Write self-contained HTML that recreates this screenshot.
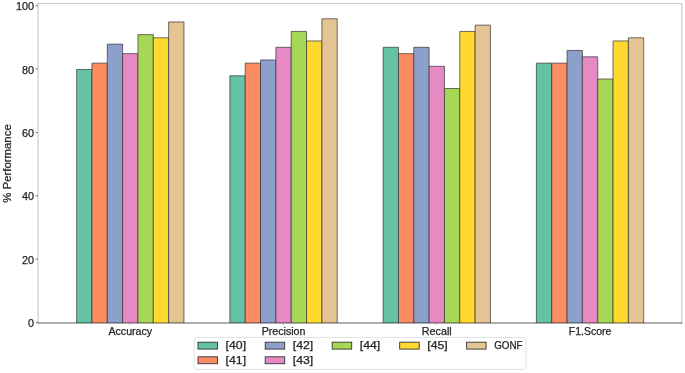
<!DOCTYPE html><html><head><meta charset="utf-8"><style>html,body{margin:0;padding:0;background:#fff;overflow:hidden;}svg{display:block;}text{font-family:"Liberation Sans",sans-serif;stroke:#262626;stroke-width:0.25px;}</style></head><body>
<svg width="685" height="373" viewBox="0 0 685 373">
<defs><filter id="b" x="0" y="0" width="100%" height="100%"><feGaussianBlur stdDeviation="0.35"/></filter></defs>
<rect x="0" y="0" width="685" height="373" fill="#fff"/>
<g filter="url(#b)">
<rect x="0" y="0" width="685" height="373" fill="#fff"/>
<path d="M38.0,323.0 V3.43 H681.8 V323.0" fill="none" stroke="#c8c8c8" stroke-width="1.1"/>
<rect x="76.65" y="69.48" width="15.33" height="253.52" fill="#66c2a5"/>
<path d="M76.65,323.00 V69.48 H91.98 V323.00" fill="none" stroke="#333" stroke-width="0.7"/>
<rect x="91.98" y="63.14" width="15.33" height="259.86" fill="#fc8d62"/>
<path d="M91.98,323.00 V63.14 H107.31 V323.00" fill="none" stroke="#333" stroke-width="0.7"/>
<rect x="107.31" y="44.13" width="15.33" height="278.87" fill="#8da0cb"/>
<path d="M107.31,323.00 V44.13 H122.64 V323.00" fill="none" stroke="#333" stroke-width="0.7"/>
<rect x="122.64" y="53.63" width="15.33" height="269.37" fill="#e78ac3"/>
<path d="M122.64,323.00 V53.63 H137.97 V323.00" fill="none" stroke="#333" stroke-width="0.7"/>
<rect x="137.97" y="34.62" width="15.33" height="288.38" fill="#a6d854"/>
<path d="M137.97,323.00 V34.62 H153.30 V323.00" fill="none" stroke="#333" stroke-width="0.7"/>
<rect x="153.30" y="37.79" width="15.33" height="285.21" fill="#ffd92f"/>
<path d="M153.30,323.00 V37.79 H168.63 V323.00" fill="none" stroke="#333" stroke-width="0.7"/>
<rect x="168.62" y="21.94" width="15.33" height="301.06" fill="#e5c494"/>
<path d="M168.62,323.00 V21.94 H183.96 V323.00" fill="none" stroke="#333" stroke-width="0.7"/>
<rect x="229.90" y="75.82" width="15.33" height="247.18" fill="#66c2a5"/>
<path d="M229.90,323.00 V75.82 H245.23 V323.00" fill="none" stroke="#333" stroke-width="0.7"/>
<rect x="245.23" y="63.14" width="15.33" height="259.86" fill="#fc8d62"/>
<path d="M245.23,323.00 V63.14 H260.56 V323.00" fill="none" stroke="#333" stroke-width="0.7"/>
<rect x="260.56" y="59.97" width="15.33" height="263.03" fill="#8da0cb"/>
<path d="M260.56,323.00 V59.97 H275.88 V323.00" fill="none" stroke="#333" stroke-width="0.7"/>
<rect x="275.88" y="47.30" width="15.33" height="275.70" fill="#e78ac3"/>
<path d="M275.88,323.00 V47.30 H291.21 V323.00" fill="none" stroke="#333" stroke-width="0.7"/>
<rect x="291.22" y="31.45" width="15.33" height="291.55" fill="#a6d854"/>
<path d="M291.22,323.00 V31.45 H306.55 V323.00" fill="none" stroke="#333" stroke-width="0.7"/>
<rect x="306.55" y="40.96" width="15.33" height="282.04" fill="#ffd92f"/>
<path d="M306.55,323.00 V40.96 H321.88 V323.00" fill="none" stroke="#333" stroke-width="0.7"/>
<rect x="321.88" y="18.78" width="15.33" height="304.22" fill="#e5c494"/>
<path d="M321.88,323.00 V18.78 H337.20 V323.00" fill="none" stroke="#333" stroke-width="0.7"/>
<rect x="383.14" y="47.30" width="15.33" height="275.70" fill="#66c2a5"/>
<path d="M383.14,323.00 V47.30 H398.47 V323.00" fill="none" stroke="#333" stroke-width="0.7"/>
<rect x="398.47" y="53.63" width="15.33" height="269.37" fill="#fc8d62"/>
<path d="M398.47,323.00 V53.63 H413.80 V323.00" fill="none" stroke="#333" stroke-width="0.7"/>
<rect x="413.81" y="47.30" width="15.33" height="275.70" fill="#8da0cb"/>
<path d="M413.81,323.00 V47.30 H429.13 V323.00" fill="none" stroke="#333" stroke-width="0.7"/>
<rect x="429.13" y="66.31" width="15.33" height="256.69" fill="#e78ac3"/>
<path d="M429.13,323.00 V66.31 H444.46 V323.00" fill="none" stroke="#333" stroke-width="0.7"/>
<rect x="444.46" y="88.49" width="15.33" height="234.51" fill="#a6d854"/>
<path d="M444.46,323.00 V88.49 H459.79 V323.00" fill="none" stroke="#333" stroke-width="0.7"/>
<rect x="459.79" y="31.45" width="15.33" height="291.55" fill="#ffd92f"/>
<path d="M459.79,323.00 V31.45 H475.12 V323.00" fill="none" stroke="#333" stroke-width="0.7"/>
<rect x="475.12" y="25.11" width="15.33" height="297.89" fill="#e5c494"/>
<path d="M475.12,323.00 V25.11 H490.45 V323.00" fill="none" stroke="#333" stroke-width="0.7"/>
<rect x="536.39" y="63.14" width="15.33" height="259.86" fill="#66c2a5"/>
<path d="M536.39,323.00 V63.14 H551.73 V323.00" fill="none" stroke="#333" stroke-width="0.7"/>
<rect x="551.73" y="63.14" width="15.33" height="259.86" fill="#fc8d62"/>
<path d="M551.73,323.00 V63.14 H567.06 V323.00" fill="none" stroke="#333" stroke-width="0.7"/>
<rect x="567.05" y="50.47" width="15.33" height="272.53" fill="#8da0cb"/>
<path d="M567.05,323.00 V50.47 H582.38 V323.00" fill="none" stroke="#333" stroke-width="0.7"/>
<rect x="582.38" y="56.80" width="15.33" height="266.20" fill="#e78ac3"/>
<path d="M582.38,323.00 V56.80 H597.72 V323.00" fill="none" stroke="#333" stroke-width="0.7"/>
<rect x="597.72" y="78.99" width="15.33" height="244.01" fill="#a6d854"/>
<path d="M597.72,323.00 V78.99 H613.05 V323.00" fill="none" stroke="#333" stroke-width="0.7"/>
<rect x="613.04" y="40.96" width="15.33" height="282.04" fill="#ffd92f"/>
<path d="M613.04,323.00 V40.96 H628.38 V323.00" fill="none" stroke="#333" stroke-width="0.7"/>
<rect x="628.38" y="37.79" width="15.33" height="285.21" fill="#e5c494"/>
<path d="M628.38,323.00 V37.79 H643.71 V323.00" fill="none" stroke="#333" stroke-width="0.7"/>
<line x1="37.5" y1="323.0" x2="682.3" y2="323.0" stroke="#000" stroke-opacity="0.42" stroke-width="1.6"/>
<line x1="35.6" y1="322.55" x2="38.0" y2="322.55" stroke="#666" stroke-width="0.9"/>
<text x="33.9" y="327.20" font-size="10" fill="#262626" text-anchor="end" textLength="6.00" lengthAdjust="spacingAndGlyphs">0</text>
<line x1="35.6" y1="259.17" x2="38.0" y2="259.17" stroke="#666" stroke-width="0.9"/>
<text x="33.9" y="263.82" font-size="10" fill="#262626" text-anchor="end" textLength="12.00" lengthAdjust="spacingAndGlyphs">20</text>
<line x1="35.6" y1="195.79" x2="38.0" y2="195.79" stroke="#666" stroke-width="0.9"/>
<text x="33.9" y="200.44" font-size="10" fill="#262626" text-anchor="end" textLength="12.00" lengthAdjust="spacingAndGlyphs">40</text>
<line x1="35.6" y1="132.41" x2="38.0" y2="132.41" stroke="#666" stroke-width="0.9"/>
<text x="33.9" y="137.06" font-size="10" fill="#262626" text-anchor="end" textLength="12.00" lengthAdjust="spacingAndGlyphs">60</text>
<line x1="35.6" y1="69.03" x2="38.0" y2="69.03" stroke="#666" stroke-width="0.9"/>
<text x="33.9" y="73.68" font-size="10" fill="#262626" text-anchor="end" textLength="12.00" lengthAdjust="spacingAndGlyphs">80</text>
<line x1="35.6" y1="5.65" x2="38.0" y2="5.65" stroke="#666" stroke-width="0.9"/>
<text x="33.9" y="10.30" font-size="10" fill="#262626" text-anchor="end" textLength="18.00" lengthAdjust="spacingAndGlyphs">100</text>
<line x1="129.80" y1="323.0" x2="129.80" y2="325.2" stroke="#999" stroke-width="0.7"/>
<text x="130.30" y="334.8" font-size="10" fill="#262626" text-anchor="middle" textLength="43.80" lengthAdjust="spacingAndGlyphs">Accuracy</text>
<line x1="283.05" y1="323.0" x2="283.05" y2="325.2" stroke="#999" stroke-width="0.7"/>
<text x="283.55" y="334.8" font-size="10" fill="#262626" text-anchor="middle" textLength="43.80" lengthAdjust="spacingAndGlyphs">Precision</text>
<line x1="436.30" y1="323.0" x2="436.30" y2="325.2" stroke="#999" stroke-width="0.7"/>
<text x="436.80" y="334.8" font-size="10" fill="#262626" text-anchor="middle" textLength="29.90" lengthAdjust="spacingAndGlyphs">Recall</text>
<line x1="589.55" y1="323.0" x2="589.55" y2="325.2" stroke="#999" stroke-width="0.7"/>
<text x="590.05" y="334.8" font-size="10" fill="#262626" text-anchor="middle" textLength="42.60" lengthAdjust="spacingAndGlyphs">F1.Score</text>
<text transform="translate(10.9,163.5) rotate(-90)" font-size="10" fill="#262626" text-anchor="middle" textLength="78.4" lengthAdjust="spacingAndGlyphs">% Performance</text>
<rect x="194.2" y="337.5" width="331.8" height="32.0" rx="2.8" fill="#fff" fill-opacity="0.8" stroke="#e0e0e0" stroke-width="0.9"/>
<rect x="198.00" y="342.20" width="19.5" height="6.9" fill="#66c2a5" stroke="#333" stroke-width="0.9"/>
<text x="225.60" y="349.30" font-size="10" fill="#262626" textLength="20.50" lengthAdjust="spacingAndGlyphs">[40]</text>
<rect x="198.00" y="356.80" width="19.5" height="6.9" fill="#fc8d62" stroke="#333" stroke-width="0.9"/>
<text x="225.60" y="363.50" font-size="10" fill="#262626" textLength="20.50" lengthAdjust="spacingAndGlyphs">[41]</text>
<rect x="265.20" y="342.20" width="19.5" height="6.9" fill="#8da0cb" stroke="#333" stroke-width="0.9"/>
<text x="292.80" y="349.30" font-size="10" fill="#262626" textLength="20.50" lengthAdjust="spacingAndGlyphs">[42]</text>
<rect x="265.20" y="356.80" width="19.5" height="6.9" fill="#e78ac3" stroke="#333" stroke-width="0.9"/>
<text x="292.80" y="363.50" font-size="10" fill="#262626" textLength="20.50" lengthAdjust="spacingAndGlyphs">[43]</text>
<rect x="332.20" y="342.20" width="19.5" height="6.9" fill="#a6d854" stroke="#333" stroke-width="0.9"/>
<text x="359.80" y="349.30" font-size="10" fill="#262626" textLength="20.50" lengthAdjust="spacingAndGlyphs">[44]</text>
<rect x="399.70" y="342.20" width="19.5" height="6.9" fill="#ffd92f" stroke="#333" stroke-width="0.9"/>
<text x="427.30" y="349.30" font-size="10" fill="#262626" textLength="20.50" lengthAdjust="spacingAndGlyphs">[45]</text>
<rect x="466.60" y="342.20" width="19.5" height="6.9" fill="#e5c494" stroke="#333" stroke-width="0.9"/>
<text x="494.20" y="349.30" font-size="10" fill="#262626" textLength="28.30" lengthAdjust="spacingAndGlyphs">GONF</text>
</g>
</svg></body></html>
